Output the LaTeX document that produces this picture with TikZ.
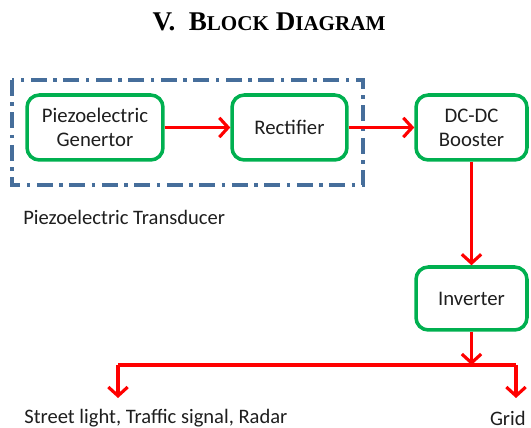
\documentclass[tikz,border=0pt]{standalone}
\usepackage{fontspec}
\setmainfont{Carlito}
\newfontfamily\titlefont{Liberation Serif}
\usetikzlibrary{arrows.meta}

\definecolor{blockgreen}{RGB}{0,176,80}
\definecolor{flowred}{RGB}{255,0,0}
\definecolor{groupblue}{RGB}{70,110,155}
\definecolor{textgray}{RGB}{30,30,30}

\tikzset{
    block/.style={draw=blockgreen, line width=2pt, rounded corners=7pt,
        minimum height=1.3cm, align=center, text=textgray,
        font=\fontsize{11.8}{13.6}\selectfont},
    flow/.style={draw=flowred, line width=1.8pt,
        -{Straight Barb[length=5pt, width=11pt]}},
    link/.style={draw=flowred, line width=1.8pt},
    label/.style={text=textgray, inner sep=0pt,
        font=\fontsize{11.7}{13.6}\selectfont},
}

\begin{document}
\begin{tikzpicture}[x=0.02cm, y=-0.02cm]
    \useasboundingbox (0, 0) rectangle (531, 428);

    % title
    \node (title) at (269, 22) {\titlefont\bfseries\fontsize{15.4}{18}\selectfont
        V.\ \ B{\fontsize{12}{14}\selectfont LOCK} D{\fontsize{12}{14}\selectfont IAGRAM}};

    % transducer group
    \draw [groupblue, line width=1.9pt, dash pattern=on 0.32cm off 0.13cm on 0.07cm off 0.13cm]
        (12, 80) rectangle (363, 185);
    \node[label, anchor=west] (trans) at (23, 217) {Piezoelectric Transducer};

    % blocks
    \node[block, minimum width=2.72cm] (gen) at (95, 127.5) {Piezoelectric\\Genertor};
    \node[block, minimum width=2.3cm] (rect) at (289.5, 127.5) {Rectifier};
    \node[block, minimum width=2.22cm] (boost) at (471.5, 127.5) {DC-DC\\Booster};
    \node[block, minimum width=2.22cm, minimum height=1.26cm] (inv) at (471.5, 298.5) {Inverter};

    % loads
    \node[label, anchor=west] (street) at (24, 418) {Street light, Traffic signal, Radar};
    \node[label, anchor=east] (grid) at (526, 418) {Grid};

    \coordinate (split) at (inv.south |- 0, 365);
    \coordinate (splitl) at (118, 365);
    \coordinate (splitr) at (516, 365);
    \coordinate (endl) at (118, 398);
    \coordinate (endr) at (516, 398);

    % connectors
    \draw [flow] (gen) -- (rect);
    \draw [flow] (rect) -- (boost);
    \draw [flow] (boost) -- (inv);
    \draw [flow] (inv) -- (split);
    \draw [link] (splitl) -- (splitr);
    \draw [flow] (splitl) -- (endl);
    \draw [flow] (splitr) -- (endr);
\end{tikzpicture}
\end{document}
